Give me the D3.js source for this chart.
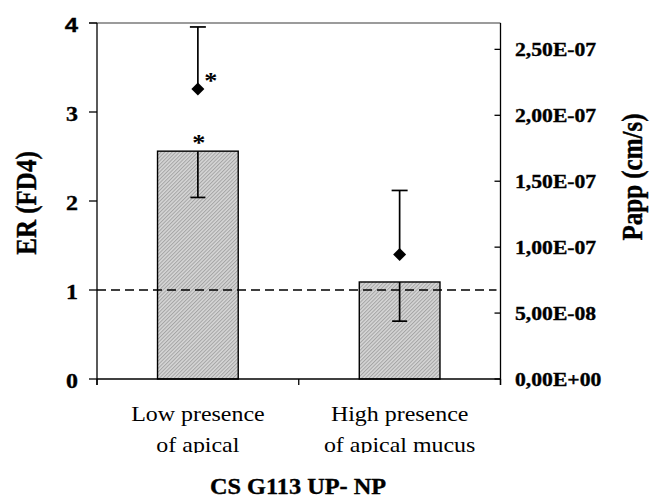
<!DOCTYPE html>
<html>
<head>
<meta charset="utf-8">
<script src="https://cdn.jsdelivr.net/npm/d3@7/dist/d3.min.js"></script>
<style>
  html, body { margin: 0; padding: 0; background: #fff; }
  svg { display: block; }
  text.heavy { stroke: #000; stroke-width: 0.35px; }
</style>
</head>
<body>
<svg id="chart" width="655" height="499" font-family="'Times New Roman', 'Liberation Serif', Tinos, Times, serif"></svg>
<script>
// ---- data ----
const categories = ["Low presence of apical", "High presence of apical mucus"];
const categoryLines = [["Low presence", "of apical"], ["High presence", "of apical mucus"]];
const erValues = [2.56, 1.09];          // bars, left axis ER (FD4)
const erLower = [2.04, 0.65];           // lower error bar end
const pappValues = [2.20e-7, 0.945e-7]; // diamonds, right axis Papp (cm/s)
const pappUpper = [2.67e-7, 1.43e-7];   // upper error bar end
const erSignificant = [true, false];
const pappSignificant = [true, false];
const leftTicks = [0, 1, 2, 3, 4];
const rightTicks = [0, 5e-8, 1e-7, 1.5e-7, 2e-7, 2.5e-7];
const rightTickLabels = ["0,00E+00", "5,00E-08", "1,00E-07", "1,50E-07", "2,00E-07", "2,50E-07"];
const referenceLine = 1;

// ---- layout ----
const svg = d3.select("#chart");
const pL = 97, pR = 500.5, pT = 23, pB = 379;
const sx = 1.14; // horizontal text stretch

const x = d3.scaleBand().domain(categories).range([pL, pR]).paddingInner(0.6).paddingOuter(0.3);
const yL = d3.scaleLinear().domain([0, 4]).range([pB, pT]);
const yR = d3.scaleLinear().domain([0, 2.7e-7]).range([pB, pT]);

// hatch pattern
const defs = svg.append("defs");
const pat = defs.append("pattern").attr("id", "hatch").attr("patternUnits", "userSpaceOnUse")
  .attr("width", 2.6).attr("height", 2.6).attr("patternTransform", "rotate(45)");
pat.append("rect").attr("width", 2.6).attr("height", 2.6).attr("fill", "#d6d6d6");
pat.append("rect").attr("width", 1).attr("height", 2.6).attr("fill", "#a4a4a4");
defs.append("clipPath").attr("id", "catclip").append("rect")
  .attr("x", 0).attr("y", 395).attr("width", 655).attr("height", 58);

// top frame line
svg.append("line").attr("x1", pL - 8).attr("x2", pR).attr("y1", pT).attr("y2", pT)
  .attr("stroke", "#7a7a7a").attr("stroke-width", 1.3);

// bars
const cx = c => x(c) + x.bandwidth() / 2;
svg.selectAll("rect.bar").data(categories).join("rect").attr("class", "bar")
  .attr("x", c => x(c)).attr("width", x.bandwidth())
  .attr("y", (c, i) => yL(erValues[i])).attr("height", (c, i) => yL(0) - yL(erValues[i]))
  .attr("fill", "url(#hatch)").attr("stroke", "#000").attr("stroke-width", 1.4);

// dashed reference line
svg.append("line").attr("x1", pL).attr("x2", pR - 4)
  .attr("y1", yL(referenceLine)).attr("y2", yL(referenceLine))
  .attr("stroke", "#000").attr("stroke-width", 1.7).attr("stroke-dasharray", "9,5");

// bar error bars (downward)
categories.forEach((c, i) => {
  const g = svg.append("g").attr("stroke", "#000").attr("stroke-width", 1.7);
  g.append("line").attr("x1", cx(c)).attr("x2", cx(c)).attr("y1", yL(erValues[i])).attr("y2", yL(erLower[i]));
  g.append("line").attr("x1", cx(c) - 7.5).attr("x2", cx(c) + 7.5).attr("y1", yL(erLower[i])).attr("y2", yL(erLower[i]));
});

// papp error bars (upward) + diamonds
categories.forEach((c, i) => {
  const g = svg.append("g").attr("stroke", "#000").attr("stroke-width", 1.7);
  g.append("line").attr("x1", cx(c)).attr("x2", cx(c)).attr("y1", yR(pappValues[i])).attr("y2", yR(pappUpper[i]));
  g.append("line").attr("x1", cx(c) - 8).attr("x2", cx(c) + 8).attr("y1", yR(pappUpper[i])).attr("y2", yR(pappUpper[i]));
});
svg.selectAll("path.dia").data(categories).join("path").attr("class", "dia")
  .attr("d", d3.symbol().type(d3.symbolSquare).size(84))
  .attr("transform", (c, i) => `translate(${cx(c)},${yR(pappValues[i])}) rotate(45)`)
  .attr("fill", "#000");

// asterisks
categories.forEach((c, i) => {
  if (erSignificant[i]) svg.append("text").attr("transform", `translate(${cx(c) + 1},${yL(erValues[i]) - 1}) scale(${sx},1)`)
    .attr("text-anchor", "middle").attr("font-size", 23).attr("font-weight", "bold").text("*");
  if (pappSignificant[i]) svg.append("text").attr("transform", `translate(${cx(c) + 13},${yR(pappValues[i]) - 1}) scale(${sx},1)`)
    .attr("text-anchor", "middle").attr("font-size", 23).attr("font-weight", "bold").text("*");
});

// left axis
svg.append("line").attr("x1", pL).attr("x2", pL).attr("y1", pT).attr("y2", pB + 6)
  .attr("stroke", "#000").attr("stroke-width", 1.3);
svg.selectAll("line.lt").data(leftTicks).join("line").attr("class", "lt")
  .attr("x1", pL - 8).attr("x2", pL).attr("y1", d => yL(d)).attr("y2", d => yL(d))
  .attr("stroke", "#000").attr("stroke-width", 1.3);
svg.selectAll("text.ll").data(leftTicks).join("text").attr("class", "ll heavy")
  .attr("transform", d => `translate(78,${yL(d) + 9}) scale(${sx},1)`)
  .attr("text-anchor", "end").attr("font-weight", "bold").attr("font-size", 21)
  .attr("font-family", d => d === 4 ? "'Liberation Sans', Arial, sans-serif" : null)
  .text(d => d);

// right axis
svg.append("line").attr("x1", pR).attr("x2", pR).attr("y1", pT).attr("y2", pB + 6)
  .attr("stroke", "#000").attr("stroke-width", 1.3);
svg.selectAll("line.rt").data(rightTicks).join("line").attr("class", "rt")
  .attr("x1", pR - 6).attr("x2", pR).attr("y1", d => yR(d)).attr("y2", d => yR(d))
  .attr("stroke", "#000").attr("stroke-width", 1.3);
svg.selectAll("text.rl").data(rightTicks).join("text").attr("class", "rl heavy")
  .attr("transform", d => `translate(515,${yR(d) + 6.5}) scale(${sx},1)`)
  .attr("font-weight", "bold").attr("font-size", 19)
  .text((d, i) => rightTickLabels[i]);

// x axis
svg.append("line").attr("x1", pL).attr("x2", pR).attr("y1", pB).attr("y2", pB)
  .attr("stroke", "#000").attr("stroke-width", 1.3);
const bounds = [pL, (x(categories[0]) + x.bandwidth() + x(categories[1])) / 2, pR];
svg.selectAll("line.xt").data(bounds).join("line").attr("class", "xt")
  .attr("x1", d => d).attr("x2", d => d).attr("y1", pB).attr("y2", pB + 6)
  .attr("stroke", "#000").attr("stroke-width", 1.3);

// category labels
const cg = svg.append("g").attr("clip-path", "url(#catclip)");
categories.forEach((c, i) => {
  categoryLines[i].forEach((ln, j) => {
    cg.append("text").attr("transform", `translate(${cx(c)},${421 + j * 31}) scale(${sx},1)`)
      .attr("text-anchor", "middle").attr("font-size", 21).text(ln);
  });
});

// axis titles
svg.append("text").attr("class", "heavy").attr("transform", `translate(36,203) scale(${sx},1) rotate(-90)`)
  .attr("text-anchor", "middle").attr("font-weight", "bold").attr("font-size", 25).text("ER (FD4)");
svg.append("text").attr("class", "heavy").attr("transform", `translate(642,177) scale(${sx},1) rotate(-90)`)
  .attr("text-anchor", "middle").attr("font-weight", "bold").attr("font-size", 25).text("Papp (cm/s)");

// chart title
svg.append("text").attr("class", "heavy").attr("transform", `translate(298,494) scale(1.08,1)`)
  .attr("text-anchor", "middle").attr("font-weight", "bold").attr("font-size", 22.5).text("CS G113 UP- NP");
</script>
</body>
</html>
